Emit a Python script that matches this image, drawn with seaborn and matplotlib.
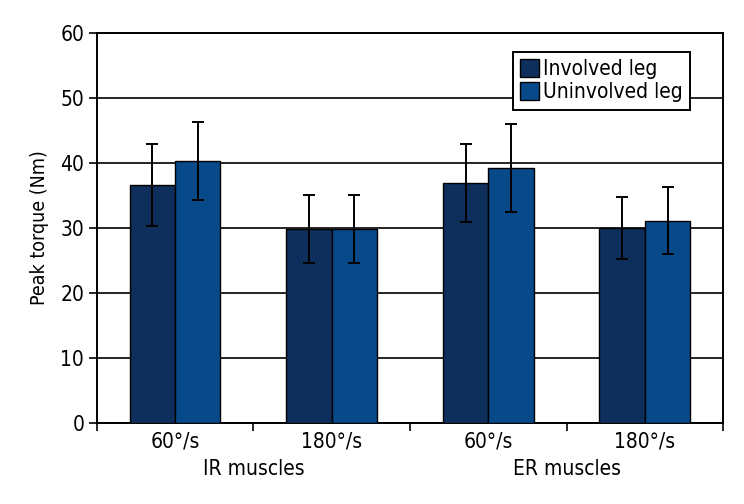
import matplotlib
matplotlib.use("Agg")
import matplotlib.pyplot as plt
import matplotlib.transforms as mtransforms
import seaborn as sns
import pandas as pd
import numpy as np

# data
conditions = ["IR 60", "IR 180", "ER 60", "ER 180"]
tick_labels = ["60°/s", "180°/s", "60°/s", "180°/s"]
group_labels = ["IR muscles", "ER muscles"]
series = ["Involved leg", "Uninvolved leg"]
involved_mean = [36.6, 29.8, 36.9, 30.0]
involved_sd = [6.3, 5.2, 6.0, 4.8]
uninvolved_mean = [40.3, 29.8, 39.2, 31.1]
uninvolved_sd = [6.0, 5.2, 6.8, 5.2]
colors = ["#0e2f5b", "#08498a"]

df = pd.DataFrame({
    "condition": conditions * 2,
    "leg": [series[0]] * 4 + [series[1]] * 4,
    "torque": involved_mean + uninvolved_mean,
    "sd": involved_sd + uninvolved_sd,
})

sns.set_style("white")
plt.rcParams["font.family"] = ["DejaVu Sans"]
plt.rcParams["font.stretch"] = "condensed"
plt.rcParams["text.color"] = "black"
plt.rcParams["axes.labelcolor"] = "black"
plt.rcParams["xtick.color"] = "black"
plt.rcParams["ytick.color"] = "black"

fig = plt.figure(figsize=(7.44, 5.04), dpi=100)
ax = fig.add_axes([0.130, 0.161, 0.842, 0.774])

sns.barplot(data=df, x="condition", y="torque", hue="leg", order=conditions,
            hue_order=series, palette=colors, width=0.58, errorbar=None,
            edgecolor="black", linewidth=1.0, saturation=1, ax=ax, zorder=3)

# error bars at the centres of the bars
for container, leg in zip(ax.containers, series):
    sub = df[df["leg"] == leg].set_index("condition").loc[conditions]
    xs = [p.get_x() + p.get_width() / 2 for p in container.patches]
    ax.errorbar(xs, sub["torque"], yerr=sub["sd"], fmt="none", ecolor="black",
                elinewidth=1.4, capsize=4, capthick=1.4, zorder=4)

ax.set_ylim(0, 60)
ax.set_xlim(-0.5, 3.5)
ax.set_yticks(np.arange(0, 61, 10))
ax.yaxis.grid(True, color="black", linewidth=1.2, zorder=0)
ax.set_axisbelow(True)

# group boundary ticks, labels on minor ticks
ax.set_xticks(np.arange(-0.5, 4, 1.0))
ax.set_xticklabels([])
ax.set_xticks(range(4), minor=True)
ax.set_xticklabels(tick_labels, minor=True, fontsize=15)
ax.tick_params(axis="x", which="major", length=6, width=1.2, direction="out", bottom=True)
ax.tick_params(axis="x", which="minor", length=0, pad=6)
ax.tick_params(axis="y", length=6, width=1.2, direction="out", left=True, labelsize=15, pad=3)

for s in ["left", "bottom", "right", "top"]:
    ax.spines[s].set_color("black")
    ax.spines[s].set_linewidth(1.4)

trans = mtransforms.blended_transform_factory(ax.transData, ax.transAxes)
for xpos, lab in zip([0.5, 2.5], group_labels):
    ax.text(xpos, -0.118, lab, transform=trans, ha="center", va="center", fontsize=15)

ax.set_xlabel("")
ax.set_ylabel("Peak torque (Nm)", fontsize=14, labelpad=8)

leg = ax.legend(loc="upper right", bbox_to_anchor=(0.947, 0.951), fontsize=15,
                frameon=True, fancybox=False, framealpha=1, edgecolor="black",
                handlelength=0.9, handleheight=0.9, handletextpad=0.2,
                borderpad=0.35, labelspacing=0.15, borderaxespad=0)
leg.get_frame().set_linewidth(1.4)
leg.set_zorder(5)

fig.savefig("out.png", dpi=100)
